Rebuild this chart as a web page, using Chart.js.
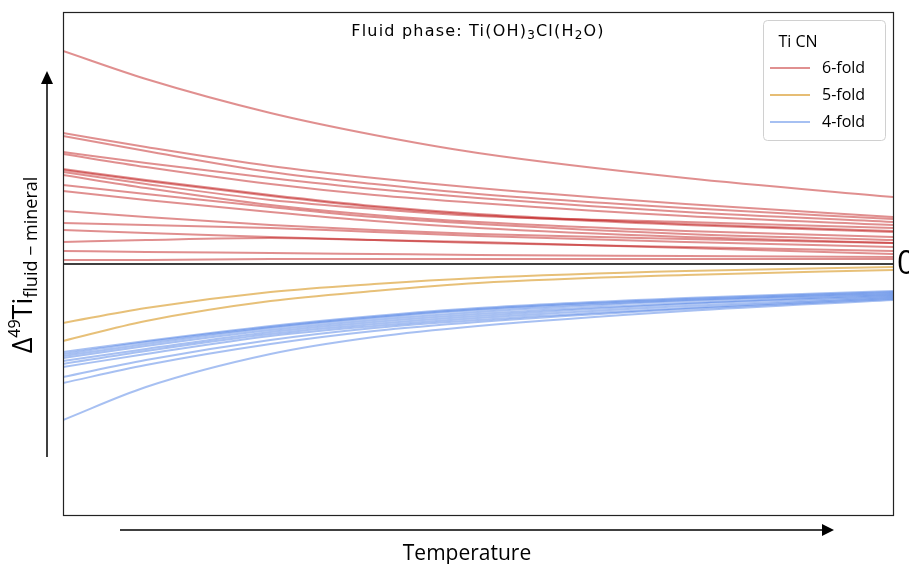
<!DOCTYPE html>
<html lang="en">
<head>
  <meta charset="UTF-8">
  <title>Fluid phase: Ti(OH)3Cl(H2O)</title>
  <script src="https://cdn.jsdelivr.net/npm/chart.js"></script>
  <style>
    html, body { margin: 0; padding: 0; background: #fff; }
    #chart { display: block; }
  </style>
</head>
<body>
  <canvas id="chart" width="909" height="564"></canvas>
  <script>
    // normalised temperature (no ticks on the original)
    const tempPts = [0, 0.1, 0.25, 0.375, 0.5, 0.75, 1];

    // Delta49Ti fluid-mineral, arbitrary units, one array per curve
    const sixFold = [
      [2.13, 1.85, 1.51, 1.29, 1.11, 0.86, 0.67],
      [1.31, 1.17, 0.98, 0.86, 0.76, 0.60, 0.47],
      [1.28, 1.13, 0.92, 0.80, 0.70, 0.56, 0.45],
      [1.12, 1.01, 0.86, 0.75, 0.66, 0.52, 0.42],
      [1.10, 0.97, 0.80, 0.69, 0.61, 0.48, 0.39],
      [0.95, 0.84, 0.69, 0.58, 0.50, 0.40, 0.33],
      [0.94, 0.83, 0.68, 0.57, 0.49, 0.39, 0.32],
      [0.92, 0.80, 0.64, 0.55, 0.48, 0.42, 0.36],
      [0.89, 0.76, 0.59, 0.49, 0.42, 0.33, 0.27],
      [0.79, 0.70, 0.57, 0.47, 0.40, 0.30, 0.24],
      [0.73, 0.64, 0.52, 0.43, 0.36, 0.27, 0.21],
      [0.53, 0.47, 0.39, 0.34, 0.30, 0.25, 0.21],
      [0.41, 0.39, 0.36, 0.32, 0.28, 0.22, 0.17],
      [0.34, 0.31, 0.27, 0.24, 0.21, 0.17, 0.13],
      [0.22, 0.24, 0.26, 0.24, 0.22, 0.16, 0.10],
      [0.13, 0.12, 0.11, 0.10, 0.09, 0.08, 0.07],
      [0.04, 0.04, 0.05, 0.05, 0.05, 0.05, 0.05]
    ];
    const fiveFold = [
      [-0.59, -0.44, -0.28, -0.20, -0.14, -0.07, -0.03],
      [-0.77, -0.57, -0.37, -0.27, -0.19, -0.11, -0.06]
    ];
    const fourFold = [
      [-0.88, -0.77, -0.62, -0.52, -0.44, -0.34, -0.27],
      [-0.90, -0.78, -0.63, -0.53, -0.45, -0.35, -0.28],
      [-0.92, -0.80, -0.64, -0.54, -0.46, -0.36, -0.29],
      [-0.94, -0.82, -0.66, -0.56, -0.48, -0.37, -0.30],
      [-0.97, -0.85, -0.68, -0.58, -0.50, -0.39, -0.31],
      [-1.00, -0.87, -0.70, -0.60, -0.52, -0.40, -0.32],
      [-1.03, -0.90, -0.72, -0.62, -0.54, -0.42, -0.33],
      [-1.13, -0.96, -0.76, -0.64, -0.56, -0.44, -0.34],
      [-1.19, -1.01, -0.80, -0.67, -0.58, -0.45, -0.35],
      [-1.56, -1.23, -0.90, -0.73, -0.62, -0.47, -0.36]
    ];

    const groups = [
      { label: '6-fold', color: 'rgba(190,20,20,0.48)', legendColor: '#e09090', curves: sixFold },
      { label: '5-fold', color: 'rgba(215,150,30,0.6)', legendColor: '#e6bd74', curves: fiveFold },
      { label: '4-fold', color: 'rgba(80,130,230,0.5)', legendColor: '#a6c0f2', curves: fourFold }
    ];

    const datasets = [];
    groups.forEach(g => {
      g.curves.forEach(c => {
        datasets.push({
          label: g.label,
          data: tempPts.map((t, i) => ({ x: t, y: c[i] })),
          borderColor: g.color,
          borderWidth: 2,
          pointRadius: 0,
          fill: false,
          cubicInterpolationMode: 'monotone'
        });
      });
    });

    // draw a run of text pieces with sub/superscripts
    function richText(ctx, x, y, parts) {
      let cx = x;
      parts.forEach(p => {
        ctx.font = p.font;
        ctx.fillText(p.t, cx, y + (p.dy || 0));
        cx += ctx.measureText(p.t).width;
      });
      return cx - x;
    }
    function richWidth(ctx, parts) {
      let w = 0;
      parts.forEach(p => { ctx.font = p.font; w += ctx.measureText(p.t).width; });
      return w;
    }

    const decor = {
      id: 'decor',
      afterDatasetsDraw(chart) {
        const ctx = chart.ctx;
        const a = chart.chartArea;
        const y0 = chart.scales.y.getPixelForValue(0);
        ctx.save();
        ctx.strokeStyle = '#000';
        ctx.lineWidth = 1.3;
        ctx.beginPath();
        ctx.moveTo(a.left, y0);
        ctx.lineTo(a.right, y0);
        ctx.stroke();
        ctx.restore();
      },
      afterDraw(chart) {
        const ctx = chart.ctx;
        const a = chart.chartArea;
        const y0 = chart.scales.y.getPixelForValue(0);
        ctx.save();

        // frame
        ctx.strokeStyle = '#222';
        ctx.lineWidth = 1.2;
        ctx.strokeRect(a.left + 0.5, a.top + 0.5, a.right - a.left, a.bottom - a.top);

        // "0" marker at the right edge
        ctx.fillStyle = '#000';
        ctx.font = '32px "Open Sans"';
        ctx.textBaseline = 'middle';
        ctx.textAlign = 'left';
        ctx.fillText('0', a.right + 4, y0 + 1);

        // title
        ctx.textBaseline = 'alphabetic';
        ctx.letterSpacing = '1.2px';
        const big = '16px "DejaVu Sans"', small = '12px "DejaVu Sans"';
        const title = [
          { t: 'Fluid phase: Ti(OH)', font: big },
          { t: '3', font: small, dy: 3 },
          { t: 'Cl(H', font: big },
          { t: '2', font: small, dy: 3 },
          { t: 'O)', font: big }
        ];
        const tw = richWidth(ctx, title);
        richText(ctx, 478 - tw / 2, 36, title);
        ctx.letterSpacing = '0px';

        // x arrow + label
        ctx.strokeStyle = '#000';
        ctx.lineWidth = 1.5;
        ctx.beginPath();
        ctx.moveTo(120, 530);
        ctx.lineTo(824, 530);
        ctx.stroke();
        ctx.beginPath();
        ctx.moveTo(834, 530);
        ctx.lineTo(822, 524);
        ctx.lineTo(822, 536);
        ctx.closePath();
        ctx.fill();
        ctx.font = '21px "Open Sans"';
        ctx.textAlign = 'center';
        ctx.fillText('Temperature', 467, 560);

        // y arrow + label
        ctx.beginPath();
        ctx.moveTo(47, 457);
        ctx.lineTo(47, 82);
        ctx.stroke();
        ctx.beginPath();
        ctx.moveTo(47, 71);
        ctx.lineTo(41, 84);
        ctx.lineTo(53, 84);
        ctx.closePath();
        ctx.fill();

        ctx.save();
        ctx.translate(32, 265);
        ctx.rotate(-Math.PI / 2);
        ctx.textAlign = 'left';
        const yl = [
          { t: '\u0394', font: '27px "Open Sans"' },
          { t: '49', font: '16px "Open Sans"', dy: -12 },
          { t: 'Ti', font: '27px "Open Sans"' },
          { t: 'fluid \u2212 mineral', font: '18px "Open Sans"', dy: 5 }
        ];
        const yw = richWidth(ctx, yl);
        richText(ctx, -yw / 2, 0, yl);
        ctx.restore();

        // legend
        const lx = 763, ly = 20, lw = 122, lh = 120;
        ctx.fillStyle = 'rgba(255,255,255,0.85)';
        ctx.strokeStyle = '#d0d0d0';
        ctx.lineWidth = 1;
        ctx.beginPath();
        ctx.roundRect(lx + 0.5, ly + 0.5, lw, lh, 4);
        ctx.fill();
        ctx.stroke();
        ctx.fillStyle = '#000';
        ctx.font = '16px "Open Sans"';
        ctx.textAlign = 'center';
        ctx.textBaseline = 'middle';
        ctx.fillText('Ti CN', 798, 42);
        ctx.textAlign = 'left';
        groups.forEach((g, i) => {
          const yy = 68 + i * 27;
          ctx.strokeStyle = g.legendColor;
          ctx.lineWidth = 2;
          ctx.beginPath();
          ctx.moveTo(770, yy);
          ctx.lineTo(810, yy);
          ctx.stroke();
          ctx.fillStyle = '#000';
          ctx.fillText(g.label, 822, yy);
        });
        ctx.restore();
      }
    };

    new Chart(document.getElementById('chart').getContext('2d'), {
      type: 'line',
      data: { datasets },
      options: {
        responsive: false,
        animation: false,
        devicePixelRatio: 1,
        layout: { padding: { left: 63, right: 16, top: 12, bottom: 49 } },
        scales: {
          x: { type: 'linear', min: 0, max: 1, display: false },
          y: { type: 'linear', min: -2.51, max: 2.52, display: false }
        },
        plugins: {
          legend: { display: false },
          tooltip: { enabled: false }
        }
      },
      plugins: [decor]
    });
  </script>
</body>
</html>
